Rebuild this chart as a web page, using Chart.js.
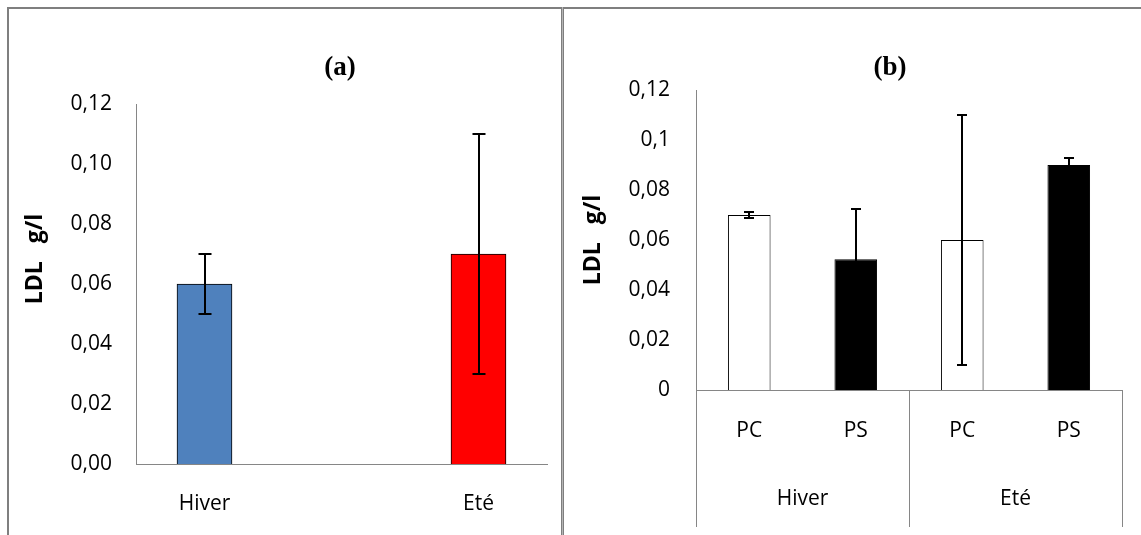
<!DOCTYPE html>
<html>
<head>
<meta charset="utf-8">
<script src="https://cdn.jsdelivr.net/npm/chart.js@4.4.1/dist/chart.umd.min.js"></script>
<style>
  body { margin: 0; background: #fff; width: 1141px; height: 535px; overflow: hidden; position: relative; }
  .frame { position: absolute; left: 7px; top: 7px; width: 1200px; height: 600px;
           border-top: 2px solid #7f7f7f; border-left: 2px solid #7f7f7f; }
  .divider { position: absolute; left: 561px; top: 7px; width: 1px; height: 600px;
             background: #b5b5b5; border-left: 1px solid #7f7f7f; border-right: 1px solid #7f7f7f; }
  canvas { position: absolute; top: 9px; }
  #chartA { left: 9px; }
  #chartB { left: 565px; }
</style>
</head>
<body>
<div class="frame"></div>
<div class="divider"></div>
<canvas id="chartA" width="552" height="526"></canvas>
<canvas id="chartB" width="576" height="526"></canvas>

<script>
// --- data (a): saison
var seasons = ['Hiver', 'Eté'];
var seasonMeans = [0.06, 0.07];
var seasonErrors = [0.01, 0.04];
var leftTickLabels = ['0,00', '0,02', '0,04', '0,06', '0,08', '0,10', '0,12'];

// --- data (b): saison x groupe
var groups = ['PC', 'PS', 'PC', 'PS'];
var groupSeasons = ['Hiver', 'Eté'];
var groupMeans = [0.07, 0.0523, 0.06, 0.09];
var groupErrors = [0.0013, 0.0202, 0.05, 0.003];
var rightTickLabels = ['0', '0,02', '0,04', '0,06', '0,08', '0,1', '0,12'];

var axisGrey = '#868686';
var tickFont = { family: '"Open Sans", sans-serif', size: 21 };

// error bars + titles + group separators
var extrasPlugin = {
    id: 'extras',
    afterDatasetsDraw: function(chart, args, opts) {
        var ctx = chart.ctx;
        var yScale = chart.scales.y;
        var meta = chart.getDatasetMeta(0);
        ctx.save();
        ctx.strokeStyle = '#000';
        ctx.lineWidth = 2;
        meta.data.forEach(function(el, i) {
            var m = opts.means[i], e = opts.errors[i];
            var x = Math.round(el.x);
            var yt = Math.round(yScale.getPixelForValue(m + e));
            var yb = Math.round(yScale.getPixelForValue(m - e));
            ctx.beginPath();
            ctx.moveTo(x, yt); ctx.lineTo(x, yb);
            ctx.moveTo(x - opts.cap / 2, yt); ctx.lineTo(x + opts.cap / 2, yt);
            ctx.moveTo(x - opts.cap / 2, yb); ctx.lineTo(x + opts.cap / 2, yb);
            ctx.stroke();
        });
        ctx.restore();
    },
    afterDraw: function(chart, args, opts) {
        var ctx = chart.ctx;
        ctx.save();
        ctx.fillStyle = '#000';
        ctx.textAlign = 'center';
        ctx.textBaseline = 'middle';
        ctx.font = 'bold 27px "Liberation Serif", serif';
        ctx.fillText(opts.title, opts.titleX, opts.titleY);
        ctx.restore();

        ctx.save();
        ctx.fillStyle = '#000';
        ctx.textAlign = 'center';
        ctx.textBaseline = 'middle';
        ctx.translate(opts.yTitleX, opts.yTitleY);
        ctx.rotate(-Math.PI / 2);
        ctx.font = 'bold 23px "Open Sans", sans-serif';
        ctx.fillText('LDL   g/l', 0, 0);
        ctx.restore();

        // separators of the season groups under the axis
        var x2 = chart.scales.x2;
        if (x2) {
            var n = x2.getLabels().length;
            var w = (x2.right - x2.left) / n;
            ctx.save();
            ctx.strokeStyle = axisGrey;
            ctx.lineWidth = 1;
            for (var i = 0; i <= n; i++) {
                var xx = Math.round(x2.left + i * w) + 0.5;
                ctx.beginPath();
                ctx.moveTo(xx, chart.chartArea.bottom);
                ctx.lineTo(xx, x2.bottom - 8);
                ctx.stroke();
            }
            ctx.restore();
        }
    }
};

function yAxis(labels, width, pad) {
    return {
        min: 0, max: 0.12,
        grid: { display: false, drawTicks: false },
        border: { display: true, color: axisGrey },
        ticks: {
            stepSize: 0.02, padding: pad, color: '#000', font: tickFont,
            callback: function(v, i) { return labels[i]; }
        },
        afterFit: function(s) { s.width = width; }
    };
}

// chart (a)
new Chart(document.getElementById('chartA'), {
    type: 'bar',
    data: {
        datasets: [{
            data: seasons.map(function(s, i) { return { x: i, y: seasonMeans[i] }; }),
            backgroundColor: ['#4f81bd', '#ff0000'],
            borderColor: '#000',
            borderWidth: 1,
            barThickness: 55
        }]
    },
    options: {
        responsive: false,
        animation: false,
        layout: { padding: { top: 95, right: 14, left: 0, bottom: 0 } },
        plugins: {
            legend: { display: false },
            tooltip: { enabled: false },
            extras: { means: seasonMeans, errors: seasonErrors, cap: 13,
                      title: '(a)', titleX: 331, titleY: 59, yTitleX: 26, yTitleY: 250 }
        },
        scales: {
            x: {
                type: 'linear', min: -0.25, max: 1.25, offset: false,
                grid: { display: false, drawTicks: false, offset: false },
                border: { display: true, color: axisGrey },
                afterBuildTicks: function(s) {
                    s.ticks = seasons.map(function(c, i) { return { value: i }; });
                },
                ticks: {
                    autoSkip: false, padding: 27, color: '#000', font: tickFont,
                    callback: function(v) { return seasons[v]; }
                },
                afterFit: function(s) { s.height = 71; }
            },
            y: yAxis(leftTickLabels, 127, 24)
        }
    },
    plugins: [extrasPlugin]
});

// chart (b)
new Chart(document.getElementById('chartB'), {
    type: 'bar',
    data: {
        labels: groups,
        datasets: [{
            data: groupMeans,
            backgroundColor: ['#fff', '#000', '#fff', '#000'],
            borderColor: '#000',
            borderWidth: 1,
            categoryPercentage: 1,
            barPercentage: 0.4
        }]
    },
    options: {
        responsive: false,
        animation: false,
        layout: { padding: { top: 81, right: 19, left: 0, bottom: 0 } },
        plugins: {
            legend: { display: false },
            tooltip: { enabled: false },
            extras: { means: groupMeans, errors: groupErrors, cap: 10,
                      title: '(b)', titleX: 325, titleY: 59, yTitleX: 28, yTitleY: 231 }
        },
        scales: {
            x: {
                grid: { display: false, drawTicks: false },
                border: { display: true, color: axisGrey },
                ticks: { padding: 28, color: '#000', font: tickFont },
                afterFit: function(s) { s.height = 70; }
            },
            x2: {
                type: 'category', position: 'bottom', weight: 1,
                labels: groupSeasons, offset: true,
                grid: { display: false, drawTicks: false },
                border: { display: false },
                ticks: { padding: 26, color: '#000', font: tickFont },
                afterFit: function(s) { s.height = 75; }
            },
            y: yAxis(rightTickLabels, 131, 26)
        }
    },
    plugins: [extrasPlugin]
});
</script>
</body>
</html>
